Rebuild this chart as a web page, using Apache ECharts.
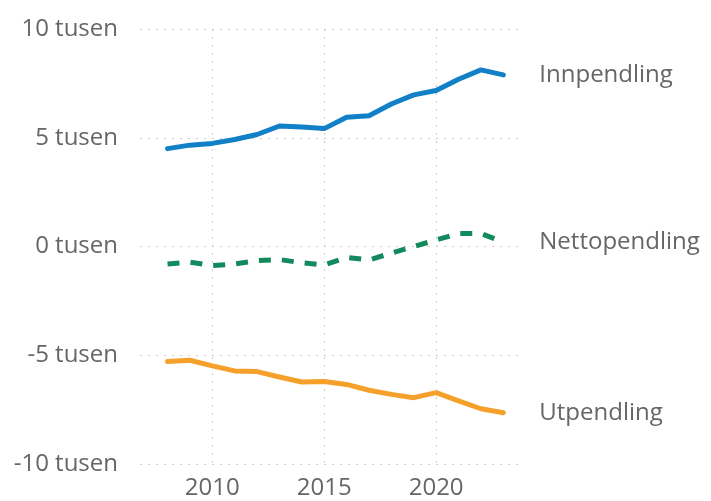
<!DOCTYPE html>
<html>
<head>
<meta charset="utf-8">
<script src="https://cdn.jsdelivr.net/npm/echarts@6/dist/echarts.min.js"></script>
<style>
html,body{margin:0;padding:0;background:#fff;}
#chart{width:711px;height:501px;}
</style>
</head>
<body>
<div id="chart"></div>
<script>
const years = [2008,2009,2010,2011,2012,2013,2014,2015,2016,2017,2018,2019,2020,2021,2022,2023];
const innpendling = [4500,4660,4740,4920,5150,5540,5490,5420,5940,6010,6550,6970,7170,7690,8120,7890];
const utpendling = [-5290,-5230,-5490,-5720,-5750,-6000,-6230,-6210,-6340,-6610,-6800,-6950,-6720,-7100,-7460,-7640];
const nettopendling = [-800,-720,-880,-800,-650,-600,-750,-850,-500,-620,-300,0,300,600,600,200];
const xTicks = [2010,2015,2020];
const yTicks = [-10000,-5000,0,5000,10000];

const FONT = '"Open Sans", "Noto Sans", sans-serif';
const TXT = '#666666';
const pairs = arr => years.map((y,i)=>[y, arr[i]]);

const chart = echarts.init(document.getElementById('chart'), null, {renderer:'canvas'});
const endLbl = {
  show: true,
  formatter: p => p.seriesName,
  color: TXT,
  fontFamily: FONT,
  fontSize: 24,
  distance: 36
};
chart.setOption({
  animation: false,
  grid: {left: 140, right: 188, top: 29, bottom: 37, containLabel: false},
  xAxis: {
    type: 'value',
    min: 2006.77,
    max: 2023.88,
    axisLine: {show: false},
    axisTick: {show: false, customValues: xTicks},
    axisLabel: {customValues: xTicks, color: TXT, fontFamily: FONT, fontSize: 24, margin: 12, formatter: v => String(v)},
    splitLine: {show: true, lineStyle: {color: '#cccccc', type: [2,6], width: 1}}
  },
  yAxis: {
    type: 'value',
    min: yTicks[0],
    max: yTicks[yTicks.length-1],
    interval: 5000,
    axisLine: {show: false},
    axisTick: {show: false},
    axisLabel: {color: TXT, fontFamily: FONT, fontSize: 24, margin: 22, formatter: v => (v/1000) + ' tusen'},
    splitLine: {show: true, lineStyle: {color: '#cccccc', type: [2,6], width: 1}}
  },
  series: [
    {name: 'Innpendling', type: 'line', data: pairs(innpendling), showSymbol: false, symbol: 'none',
     lineStyle: {color: '#1180c6', width: 5, join: 'round', cap: 'round'}, itemStyle: {color: '#1180c6'}, endLabel: endLbl},
    {name: 'Nettopendling', type: 'line', data: pairs(nettopendling), showSymbol: false, symbol: 'none',
     lineStyle: {color: '#138a5e', width: 5, type: [12,11], join: 'round', cap: 'butt'}, itemStyle: {color: '#138a5e'}, endLabel: endLbl},
    {name: 'Utpendling', type: 'line', data: pairs(utpendling), showSymbol: false, symbol: 'none',
     lineStyle: {color: '#f6a02c', width: 5, join: 'round', cap: 'round'}, itemStyle: {color: '#f6a02c'}, endLabel: endLbl}
  ]
});
</script>
</body>
</html>
